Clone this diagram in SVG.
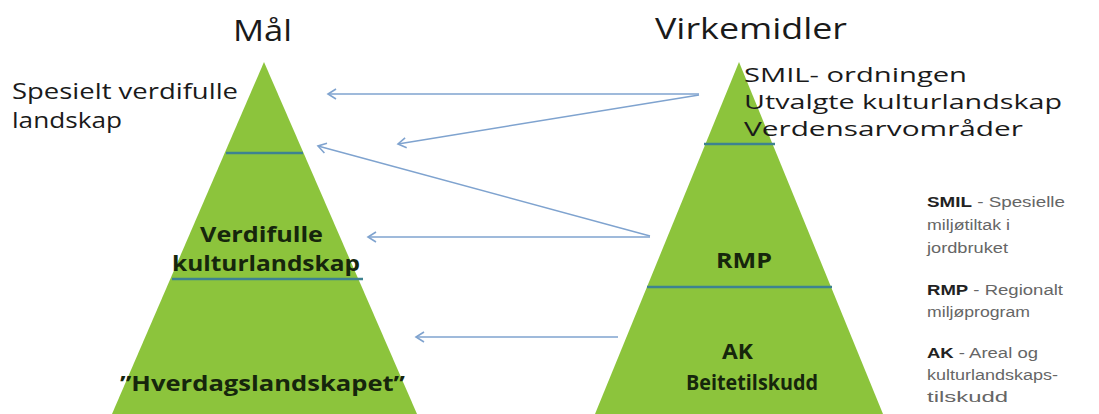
<svg xmlns="http://www.w3.org/2000/svg" width="1099" height="414" viewBox="0 0 1099 414">
<style>
.tri{fill:#8cc43c;}
.div{stroke:#3d8290;stroke-width:2.5;fill:none;}
.title{font-family:"Open Sans","Liberation Sans",sans-serif;font-size:29px;fill:#1a1a1a;}
.lbl{font-family:"Open Sans","Liberation Sans",sans-serif;font-size:21px;fill:#1a1a1a;}
.lbl2{font-family:"Open Sans","Liberation Sans",sans-serif;font-size:19.5px;fill:#1a1a1a;}
.in{font-family:"Open Sans","Liberation Sans",sans-serif;font-size:22px;font-weight:bold;fill:#16260c;}
.leg{font-family:"Liberation Sans",Arial,sans-serif;font-size:14px;fill:#666;}
.legb{font-weight:bold;fill:#222;}
.arr{stroke:#7fa3cf;stroke-width:1.5;fill:none;marker-end:url(#ah);}
</style>
<defs>
<marker id="ah" markerUnits="userSpaceOnUse" markerWidth="14" markerHeight="14" refX="9" refY="7" orient="auto">
<path d="M1,2 L9,7 L1,12" fill="none" stroke="#7fa3cf" stroke-width="1.6"/>
</marker>
</defs>
<rect width="1099" height="414" fill="#ffffff"/>

<g id="mal">
<polygon class="tri" points="264,62 112,414 417,414"/>
<line class="div" x1="226" y1="153" x2="303" y2="153"/>
<line class="div" x1="172" y1="279" x2="363" y2="279"/>
<text class="title" x="233" y="41" textLength="59" lengthAdjust="spacingAndGlyphs">Mål</text>
<text class="in" x="200" y="242" textLength="123" lengthAdjust="spacingAndGlyphs">Verdifulle</text>
<text class="in" x="172" y="271" textLength="188" lengthAdjust="spacingAndGlyphs">kulturlandskap</text>
<text class="in" x="120" y="391" textLength="285" lengthAdjust="spacingAndGlyphs">”Hverdagslandskapet”</text>
</g>

<g id="spesielt">
<text class="lbl" x="12" y="99" textLength="226" lengthAdjust="spacingAndGlyphs">Spesielt verdifulle</text>
<text class="lbl" x="12" y="128" textLength="110" lengthAdjust="spacingAndGlyphs">landskap</text>
</g>

<g id="virkemidler">
<polygon class="tri" points="739,62 595,414 883,414"/>
<line class="div" x1="704" y1="144" x2="775" y2="144"/>
<line class="div" x1="647" y1="287" x2="832" y2="287"/>
<text class="title" x="655" y="39" textLength="192" lengthAdjust="spacingAndGlyphs">Virkemidler</text>
<text class="in" x="716" y="268" textLength="56" lengthAdjust="spacingAndGlyphs">RMP</text>
<text class="in" x="722" y="359" textLength="31" lengthAdjust="spacingAndGlyphs">AK</text>
<text class="in" x="686" y="390" textLength="132" lengthAdjust="spacingAndGlyphs">Beitetilskudd</text>
</g>

<g id="ordninger">
<text class="lbl2" x="744" y="82" textLength="223" lengthAdjust="spacingAndGlyphs">SMIL- ordningen</text>
<text class="lbl2" x="744" y="109" textLength="318" lengthAdjust="spacingAndGlyphs">Utvalgte kulturlandskap</text>
<text class="lbl2" x="744" y="136" textLength="279" lengthAdjust="spacingAndGlyphs">Verdensarvområder</text>
</g>

<g id="legend">
<text class="leg" x="927" y="207" textLength="138" lengthAdjust="spacingAndGlyphs"><tspan class="legb">SMIL</tspan>  - Spesielle</text>
<text class="leg" x="927" y="230" textLength="83" lengthAdjust="spacingAndGlyphs">miljøtiltak i</text>
<text class="leg" x="927" y="253" textLength="81" lengthAdjust="spacingAndGlyphs">jordbruket</text>
<text class="leg" x="927" y="295" textLength="136" lengthAdjust="spacingAndGlyphs"><tspan class="legb">RMP</tspan>  - Regionalt</text>
<text class="leg" x="927" y="317" textLength="103" lengthAdjust="spacingAndGlyphs">miljøprogram</text>
<text class="leg" x="927" y="358" textLength="111" lengthAdjust="spacingAndGlyphs"><tspan class="legb">AK</tspan>  - Areal og</text>
<text class="leg" x="927" y="380" textLength="131" lengthAdjust="spacingAndGlyphs">kulturlandskaps-</text>
<text class="leg" x="927" y="402" textLength="81" lengthAdjust="spacingAndGlyphs">tilskudd</text>
</g>

<g id="connectors">
<line class="arr" x1="699" y1="94" x2="328" y2="94"/>
<line class="arr" x1="699" y1="95" x2="398" y2="144"/>
<line class="arr" x1="650" y1="236" x2="318" y2="146"/>
<line class="arr" x1="650" y1="237" x2="368" y2="237"/>
<line class="arr" x1="618" y1="337" x2="416" y2="337"/>
</g>
</svg>
